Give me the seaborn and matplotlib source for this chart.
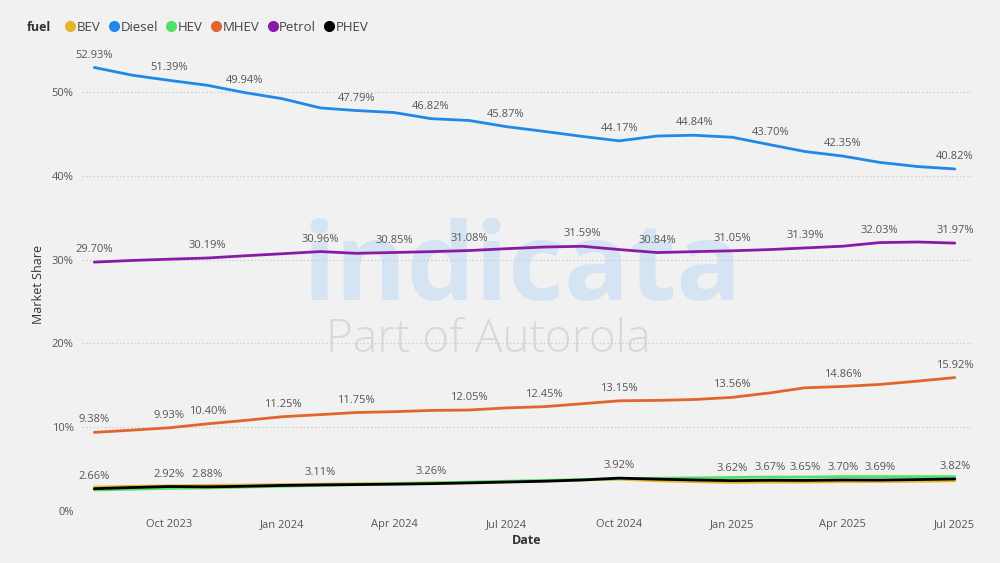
import pandas as pd
import matplotlib.pyplot as plt
import matplotlib.dates as mdates
from matplotlib.lines import Line2D
import seaborn as sns

months = ["2023-08", "2023-09", "2023-10", "2023-11", "2023-12", "2024-01",
          "2024-02", "2024-03", "2024-04", "2024-05", "2024-06", "2024-07",
          "2024-08", "2024-09", "2024-10", "2024-11", "2024-12", "2025-01",
          "2025-02", "2025-03", "2025-04", "2025-05", "2025-06", "2025-07"]

diesel = [52.93, 52.00, 51.39, 50.80, 49.94, 49.20, 48.10, 47.79, 47.55, 46.82, 46.60, 45.87,
          45.30, 44.70, 44.17, 44.75, 44.84, 44.60, 43.70, 42.90, 42.35, 41.60, 41.10, 40.82]
petrol = [29.70, 29.90, 30.05, 30.19, 30.45, 30.70, 30.96, 30.75, 30.85, 30.95, 31.08, 31.30,
          31.50, 31.59, 31.20, 30.84, 30.95, 31.05, 31.20, 31.39, 31.60, 32.03, 32.10, 31.97]
mhev = [9.38, 9.65, 9.93, 10.40, 10.80, 11.25, 11.50, 11.75, 11.85, 12.00, 12.05, 12.30,
        12.45, 12.80, 13.15, 13.20, 13.30, 13.56, 14.10, 14.70, 14.86, 15.10, 15.50, 15.92]
phev = [2.66, 2.80, 2.92, 2.88, 2.95, 3.05, 3.11, 3.15, 3.20, 3.26, 3.35, 3.45,
        3.55, 3.70, 3.92, 3.80, 3.70, 3.62, 3.67, 3.65, 3.70, 3.69, 3.75, 3.82]
bev = [2.85, 2.95, 3.00, 3.05, 3.10, 3.15, 3.20, 3.25, 3.30, 3.35, 3.40, 3.50,
       3.60, 3.70, 3.80, 3.60, 3.50, 3.40, 3.45, 3.45, 3.50, 3.50, 3.55, 3.60]
hev = [2.50, 2.60, 2.70, 2.75, 2.85, 2.95, 3.05, 3.15, 3.25, 3.35, 3.45, 3.55,
       3.65, 3.75, 3.85, 3.90, 3.95, 4.00, 4.05, 4.05, 4.10, 4.10, 4.10, 4.10]

# months that carry a data label
diesel_lab = ["2023-08", "2023-10", "2023-12", "2024-03", "2024-05", "2024-07",
              "2024-10", "2024-12", "2025-02", "2025-04", "2025-07"]
petrol_lab = ["2023-08", "2023-11", "2024-02", "2024-04", "2024-06", "2024-09",
              "2024-11", "2025-01", "2025-03", "2025-05", "2025-07"]
mhev_lab = ["2023-08", "2023-10", "2023-11", "2024-01", "2024-03", "2024-06",
            "2024-08", "2024-10", "2025-01", "2025-04", "2025-07"]
phev_lab = ["2023-08", "2023-10", "2023-11", "2024-02", "2024-05", "2024-10",
            "2025-01", "2025-02", "2025-03", "2025-04", "2025-05", "2025-07"]

fuels = ["BEV", "Diesel", "HEV", "MHEV", "Petrol", "PHEV"]
colors = {"BEV": "#e6b52a", "Diesel": "#2088e8", "HEV": "#52e06a",
          "MHEV": "#e2652e", "Petrol": "#8a1aa6", "PHEV": "#000000"}

series = {"BEV": bev, "Diesel": diesel, "HEV": hev, "MHEV": mhev, "Petrol": petrol, "PHEV": phev}
labels = {"Diesel": diesel_lab, "Petrol": petrol_lab, "MHEV": mhev_lab, "PHEV": phev_lab}

rows = []
for f, vals in series.items():
    for m, v in zip(months, vals):
        rows.append({"date": pd.Timestamp(m + "-01"), "fuel": f, "share": v})
df = pd.DataFrame(rows)

BG = "#f1f1f1"
sns.set_theme(style="white")
plt.rcParams["font.family"] = ["Open Sans", "DejaVu Sans"]

fig = plt.figure(figsize=(10, 5.63), dpi=100, facecolor=BG)
ax = fig.add_axes([0.082, 0.0924, 0.89, 0.8037])
ax.set_facecolor(BG)

# watermark
ax.text(0.494, 0.467, "indicata", transform=ax.transAxes, ha="center", va="baseline",
        fontsize=78, fontweight="bold", color="#d5e4f3", zorder=0)
ax.text(0.456, 0.378, "Part of Autorola", transform=ax.transAxes, ha="center", va="center",
        fontsize=33, fontweight="light", color="#d8d8d8", zorder=0)

sns.lineplot(data=df, x="date", y="share", hue="fuel", hue_order=["BEV", "HEV", "PHEV", "MHEV", "Petrol", "Diesel"],
             palette=colors, linewidth=2.0, legend=False, ax=ax, zorder=3)

for f, labs in labels.items():
    vals = dict(zip(months, series[f]))
    for m in labs:
        ax.annotate(f"{vals[m]:.2f}%", (pd.Timestamp(m + "-01"), vals[m]),
                    xytext=(0, 5), textcoords="offset points", ha="center", va="bottom",
                    fontsize=8, color="#555555", zorder=4)

ax.set_xlim(pd.Timestamp("2023-07-22"), pd.Timestamp("2025-07-15"))
ax.set_ylim(0, 54)
ax.set_yticks(range(0, 60, 10))
ax.set_yticklabels([f"{t}%" for t in range(0, 60, 10)])
ax.xaxis.set_major_locator(mdates.MonthLocator(bymonth=[1, 4, 7, 10]))
ax.xaxis.set_major_formatter(mdates.DateFormatter("%b %Y"))
ax.tick_params(axis="both", length=0, labelsize=8, labelcolor="#555555", pad=6)
ax.grid(axis="y", linestyle=(0, (1, 2)), color="#c8c8c8", linewidth=0.9)
for s in ax.spines.values():
    s.set_visible(False)
ax.set_xlabel("Date", fontsize=9, fontweight="bold", color="#333333", labelpad=3)
ax.set_ylabel("Market Share", fontsize=9, color="#333333", labelpad=5)

# legend
fig.text(0.027, 0.952, "fuel", fontsize=9, fontweight="bold", color="#333333", va="center")
handles = [Line2D([0], [0], marker="o", linestyle="", markersize=7, color=colors[f]) for f in fuels]
fig.legend(handles, fuels, loc="center left", bbox_to_anchor=(0.052, 0.952), ncol=6, frameon=False,
           handletextpad=0.0, columnspacing=0.5, handlelength=1.0, fontsize=9.5, labelcolor="#444444")

fig.savefig("out.png", dpi=100, facecolor=BG)
